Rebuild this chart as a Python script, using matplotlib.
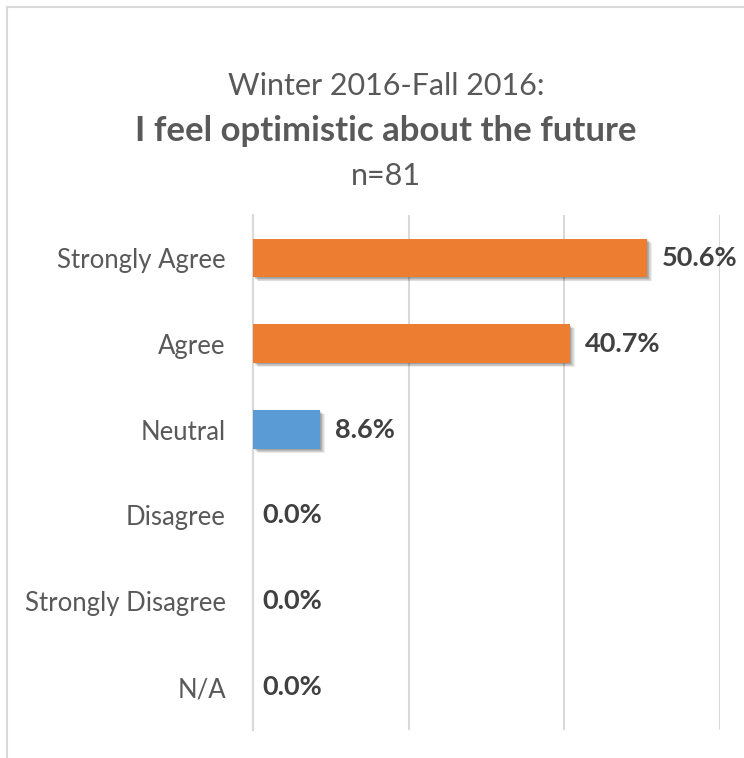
import matplotlib
matplotlib.use("Agg")
import matplotlib.pyplot as plt
import matplotlib.patheffects as pe
from matplotlib.lines import Line2D

plt.rcParams['font.family'] = ['Lato', 'DejaVu Sans']

categories = ["Strongly Agree", "Agree", "Neutral", "Disagree", "Strongly Disagree", "N/A"]
values = [50.6, 40.7, 8.6, 0.0, 0.0, 0.0]
colors = ["#ED7D31", "#ED7D31", "#5B9BD5", "#5B9BD5", "#5B9BD5", "#5B9BD5"]
xticks = [0, 20, 40, 60]

W, H = 744, 758
fig = plt.figure(figsize=(W / 100, H / 100), dpi=100)
fig.patch.set_facecolor("white")

# chart frame (left and top edges)
frame_col = "#D9D9D9"
fig.add_artist(Line2D([7 / W, 7 / W], [0, 1 - 7 / H], color=frame_col, lw=1.5,
                      transform=fig.transFigure))
fig.add_artist(Line2D([7 / W, 1], [1 - 7 / H, 1 - 7 / H], color=frame_col, lw=1.5,
                      transform=fig.transFigure))

left, right, top, bottom = 253 / W, 720 / W, 1 - 215 / H, 1 - 730 / H
ax = fig.add_axes([left, bottom, right - left, top - bottom])

ypos = list(range(len(categories)))
shadow = [pe.SimplePatchShadow(offset=(d, -d * 0.8), shadow_rgbFace="black", alpha=0.07)
          for d in (0.6, 1.2, 1.8, 2.4, 3.0, 3.6)]
bars = ax.barh(ypos, values, height=0.45, color=colors, zorder=3)
for b, v in zip(bars, values):
    if v > 0:
        b.set_path_effects(shadow + [pe.Normal()])

for y, v in zip(ypos, values):
    ax.annotate(f"{v:.1f}%", xy=(v, y), xytext=(11 if v > 0 else 7, 0),
                textcoords="offset points", va="center", ha="left",
                fontsize=19.5, fontweight="bold", color="#404040", zorder=4)

ax.set_xlim(0, 60)
ax.set_ylim(len(categories) - 0.5, -0.5)
ax.set_xticks(xticks)
ax.set_xticklabels([])
ax.tick_params(axis="x", length=0)
ax.grid(axis="x", color=frame_col, lw=1.5, zorder=0)
ax.set_yticks(ypos)
ax.set_yticklabels(categories, fontsize=18.5, color="#595959")
ax.tick_params(axis="y", length=0, pad=19.5)
for s in ("top", "right", "bottom"):
    ax.spines[s].set_visible(False)
ax.spines["left"].set_color(frame_col)
ax.spines["left"].set_linewidth(1.5)
ax.set_facecolor("none")

cx = 386 / W
fig.text(cx, 1 - 95 / H, "Winter 2016-Fall 2016:", ha="center", va="baseline",
         fontsize=22, color="#595959")
fig.text(cx, 1 - 141 / H, "I feel optimistic about the future", ha="center", va="baseline",
         fontsize=25, fontweight="bold", color="#595959")
fig.text(cx, 1 - 185 / H, "n=81", ha="center", va="baseline",
         fontsize=22, color="#595959")

fig.savefig("out.png", dpi=100, facecolor="white")
